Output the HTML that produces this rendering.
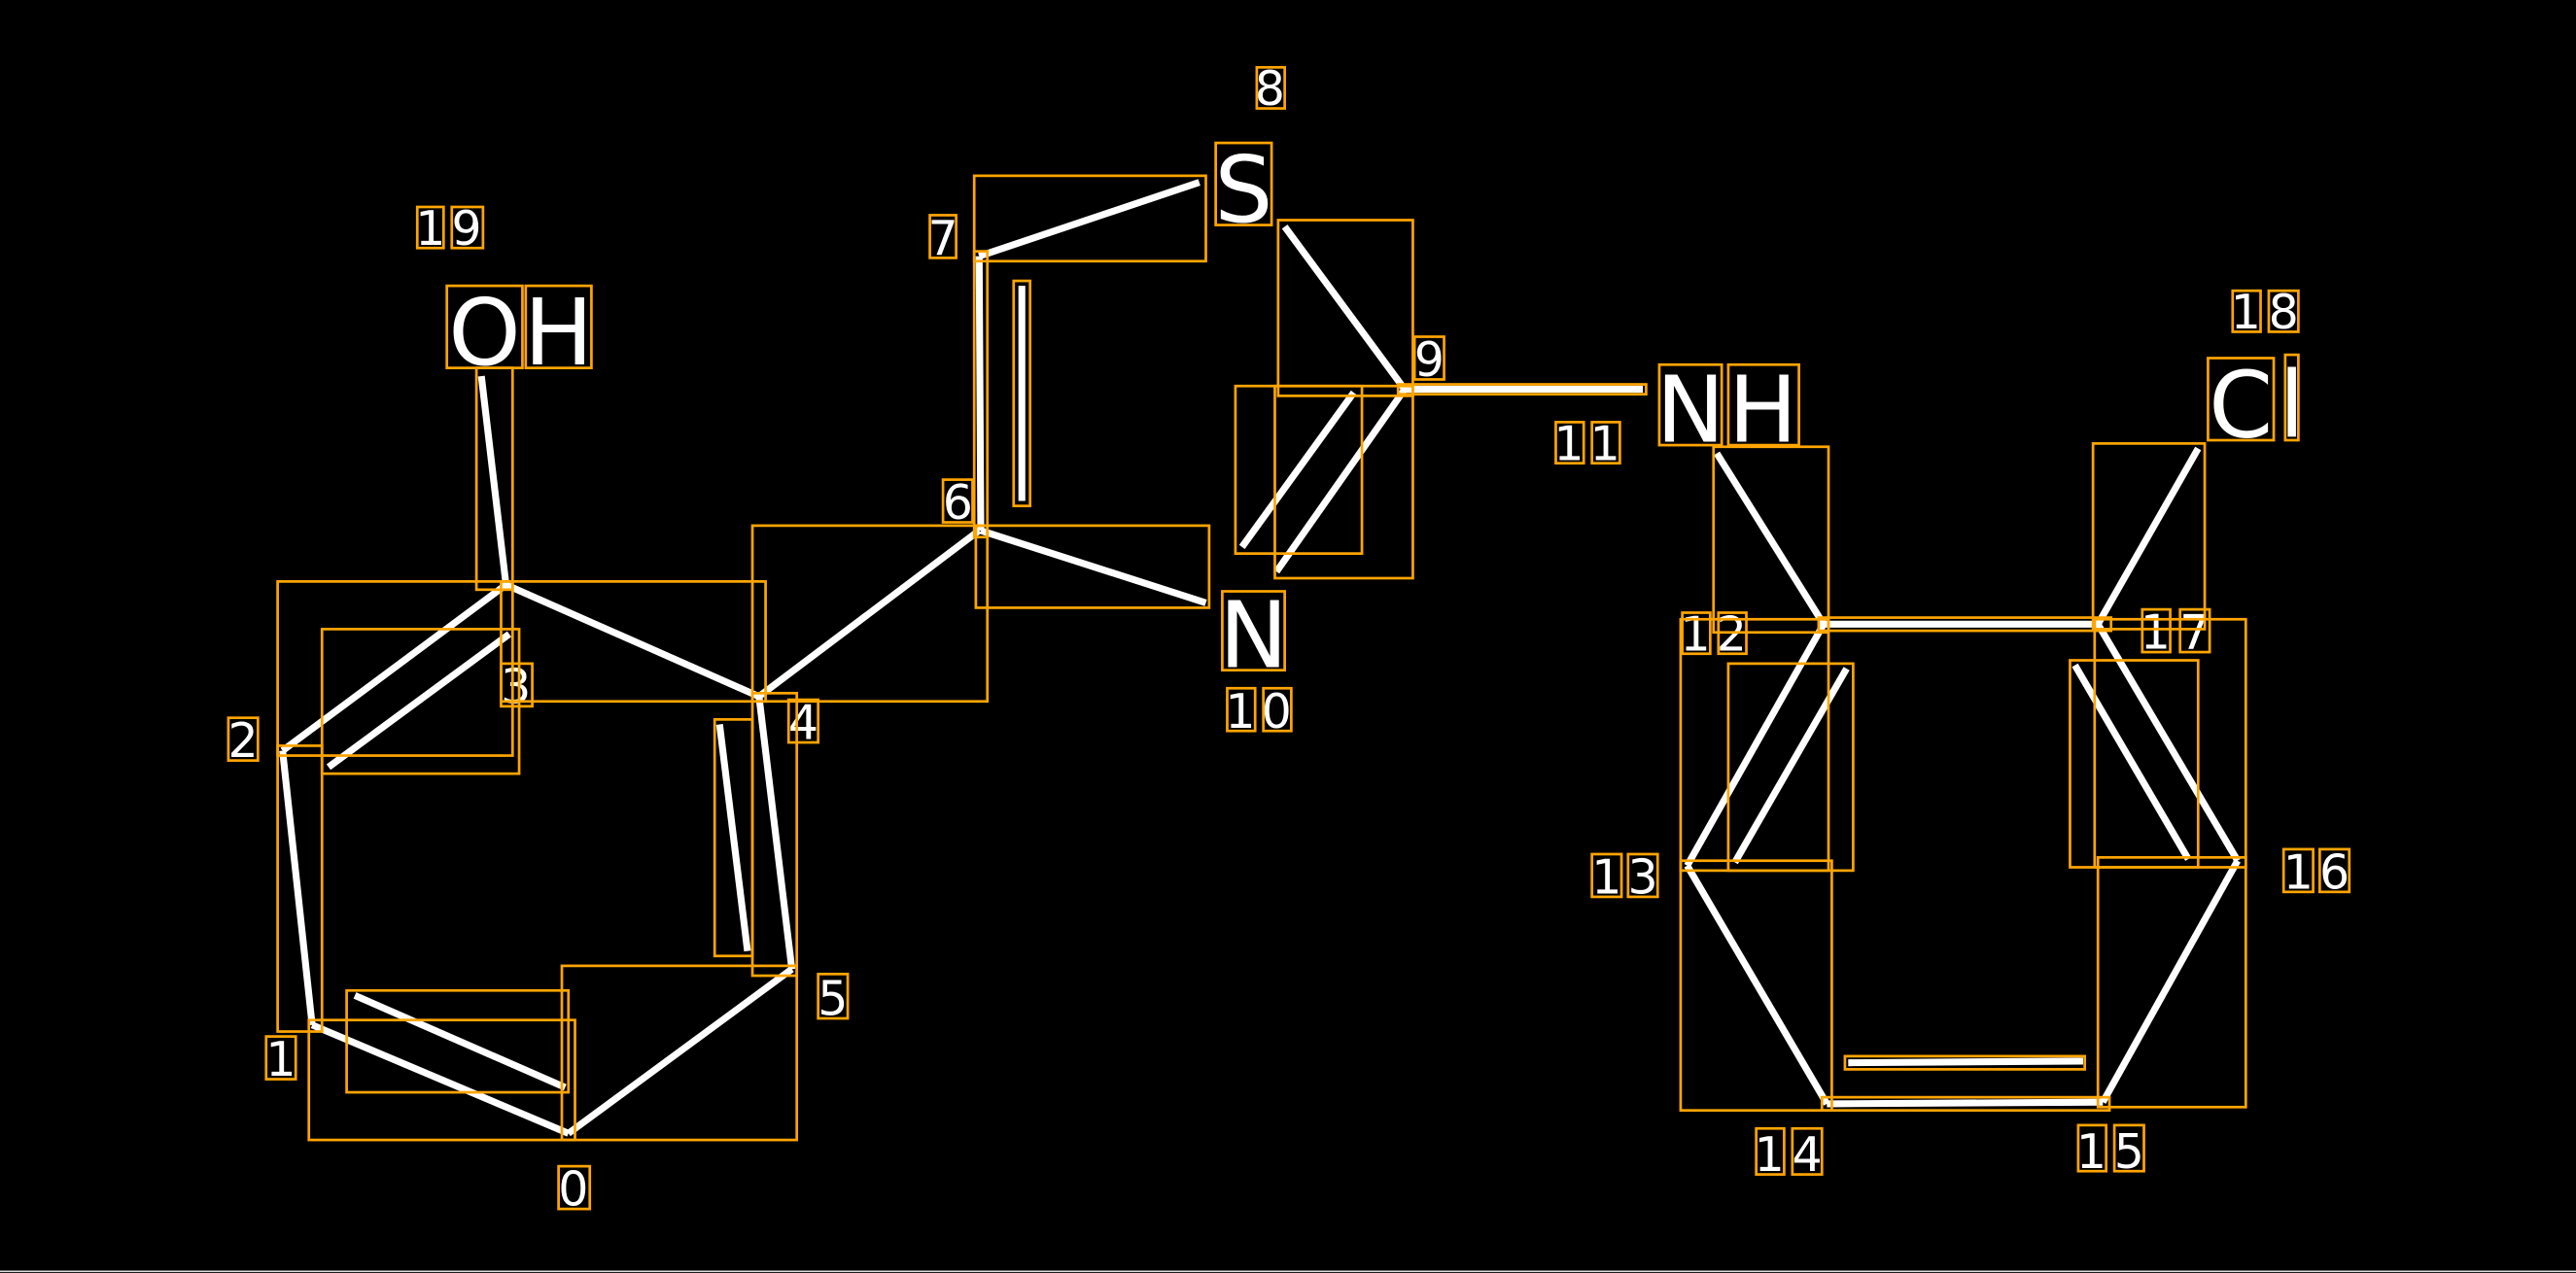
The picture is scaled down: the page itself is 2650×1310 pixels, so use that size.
<!DOCTYPE html>
<html><head><meta charset="utf-8"><style>html,body{margin:0;padding:0;background:#000}svg{display:block}</style></head>
<body>
<svg width="2650" height="1310" viewBox="0 0 1568 775" preserveAspectRatio="none" xmlns="http://www.w3.org/2000/svg">
<rect width="1568" height="775" fill="#000"/>
<line x1="0" y1="774" x2="1568" y2="774" stroke="#ddd" stroke-width="1"/>
<g stroke="#fff" stroke-width="4.2" stroke-linecap="butt" fill="none">
<line x1="293" y1="229" x2="308" y2="356"/>
<line x1="308" y1="356" x2="172" y2="457"/>
<line x1="310" y1="386" x2="200" y2="467"/>
<line x1="308" y1="356" x2="462" y2="424"/>
<line x1="172" y1="457" x2="190" y2="624"/>
<line x1="190" y1="624" x2="346" y2="690"/>
<line x1="216" y1="606" x2="344" y2="662"/>
<line x1="346" y1="690" x2="482" y2="590"/>
<line x1="482" y1="590" x2="462" y2="424"/>
<line x1="455" y1="579" x2="438" y2="441"/>
<line x1="462" y1="424" x2="596" y2="323"/>
<line x1="597" y1="323" x2="596" y2="156"/>
<line x1="622" y1="174" x2="622" y2="305"/>
<line x1="596" y1="156" x2="730" y2="111"/>
<line x1="597" y1="323" x2="734" y2="367"/>
<line x1="782" y1="138" x2="855" y2="237"/>
<line x1="855" y1="237" x2="777" y2="348"/>
<line x1="824" y1="239" x2="756" y2="333"/>
<line x1="855" y1="237" x2="1000" y2="237"/>
<line x1="1045" y1="276" x2="1110" y2="380"/>
<line x1="1110" y1="380" x2="1277" y2="380"/>
<line x1="1110" y1="380" x2="1027" y2="527"/>
<line x1="1124" y1="407" x2="1056" y2="525"/>
<line x1="1027" y1="527" x2="1112" y2="672"/>
<line x1="1112" y1="672" x2="1280" y2="671"/>
<line x1="1125" y1="647" x2="1268" y2="646"/>
<line x1="1280" y1="671" x2="1362" y2="524"/>
<line x1="1362" y1="524" x2="1277" y2="380"/>
<line x1="1332" y1="523" x2="1263" y2="405"/>
<line x1="1277" y1="380" x2="1338" y2="273"/>
</g>
<g font-family="DejaVu Sans, Liberation Sans, sans-serif" fill="#fff">
<text x="295" y="222" font-size="56" text-anchor="middle">O</text>
<text x="340" y="222" font-size="56" text-anchor="middle">H</text>
<text x="757" y="135" font-size="56" text-anchor="middle">S</text>
<text x="763" y="406" font-size="56" text-anchor="middle">N</text>
<text x="1029" y="269" font-size="56" text-anchor="middle">N</text>
<text x="1073" y="269" font-size="56" text-anchor="middle">H</text>
<text x="1364" y="266" font-size="56" text-anchor="middle">C</text>
<text x="1395" y="266" font-size="56" text-anchor="middle">l</text>
<g font-size="29" text-anchor="middle">
<text x="262" y="149">1</text><text x="284" y="149">9</text>
<text x="148" y="461">2</text>
<text x="314" y="428">3</text>
<text x="489" y="450">4</text>
<text x="507" y="618">5</text>
<text x="171" y="655">1</text>
<text x="349" y="734">0</text>
<text x="583" y="316">6</text>
<text x="574" y="155">7</text>
<text x="773" y="64">8</text>
<text x="870" y="229">9</text>
<text x="755" y="443">1</text><text x="777" y="443">0</text>
<text x="955" y="280">1</text><text x="977" y="280">1</text>
<text x="1032" y="396">1</text><text x="1054" y="396">2</text>
<text x="978" y="544">1</text><text x="1000" y="544">3</text>
<text x="1077" y="713">1</text><text x="1100" y="713">4</text>
<text x="1273" y="711">1</text><text x="1296" y="711">5</text>
<text x="1399" y="541">1</text><text x="1421" y="541">6</text>
<text x="1312" y="395">1</text><text x="1336" y="395">7</text>
<text x="1367" y="200">1</text><text x="1390" y="200">8</text>
</g>
</g>
<g stroke="#FFA500" stroke-width="1.6" fill="none">
<rect x="272" y="174" width="46" height="50"/><rect x="320" y="174" width="40" height="50"/>
<rect x="254" y="126" width="16" height="25"/><rect x="275" y="126" width="19" height="25"/>
<rect x="290" y="224" width="22" height="135"/>
<rect x="169" y="354" width="143" height="106"/>
<rect x="196" y="383" width="120" height="88"/>
<rect x="305" y="354" width="161" height="73"/>
<rect x="305" y="404" width="19" height="26"/>
<rect x="139" y="437" width="18" height="26"/>
<rect x="169" y="454" width="27" height="174"/>
<rect x="188" y="621" width="162" height="73"/>
<rect x="211" y="603" width="135" height="62"/>
<rect x="162" y="631" width="18" height="26"/>
<rect x="340" y="710" width="19" height="26"/>
<rect x="342" y="588" width="143" height="106"/>
<rect x="458" y="422" width="27" height="172"/>
<rect x="435" y="438" width="23" height="144"/>
<rect x="480" y="426" width="18" height="26"/>
<rect x="498" y="593" width="18" height="27"/>
<rect x="458" y="320" width="143" height="107"/>
<rect x="574" y="292" width="18" height="26"/>
<rect x="566" y="131" width="16" height="26"/>
<rect x="593" y="153" width="8" height="174"/>
<rect x="617" y="171" width="10" height="137"/>
<rect x="593" y="107" width="141" height="52"/>
<rect x="740" y="87" width="34" height="50"/>
<rect x="765" y="41" width="17" height="25"/>
<rect x="594" y="320" width="142" height="50"/>
<rect x="744" y="360" width="38" height="48"/>
<rect x="747" y="419" width="17" height="26"/><rect x="769" y="419" width="17" height="26"/>
<rect x="778" y="134" width="82" height="107"/>
<rect x="776" y="235" width="84" height="117"/>
<rect x="752" y="235" width="77" height="102"/>
<rect x="861" y="205" width="18" height="26"/>
<rect x="851" y="234" width="151" height="6"/>
<rect x="947" y="257" width="17" height="25"/><rect x="969" y="257" width="17" height="25"/>
<rect x="1010" y="222" width="38" height="49"/><rect x="1052" y="222" width="43" height="49"/>
<rect x="1043" y="272" width="70" height="113"/>
<rect x="1024" y="373" width="17" height="25"/><rect x="1046" y="373" width="17" height="25"/>
<rect x="1107" y="376" width="178" height="8"/>
<rect x="1023" y="377" width="90" height="153"/>
<rect x="1052" y="404" width="76" height="126"/>
<rect x="969" y="520" width="18" height="26"/><rect x="991" y="520" width="18" height="26"/>
<rect x="1023" y="524" width="92" height="152"/>
<rect x="1109" y="668" width="175" height="8"/>
<rect x="1123" y="643" width="146" height="8"/>
<rect x="1069" y="687" width="17" height="28"/><rect x="1091" y="687" width="18" height="28"/>
<rect x="1265" y="685" width="17" height="28"/><rect x="1287" y="685" width="18" height="28"/>
<rect x="1277" y="522" width="90" height="152"/>
<rect x="1275" y="377" width="92" height="151"/>
<rect x="1260" y="402" width="78" height="126"/>
<rect x="1390" y="517" width="18" height="26"/><rect x="1412" y="517" width="18" height="26"/>
<rect x="1304" y="371" width="17" height="26"/><rect x="1327" y="371" width="18" height="26"/>
<rect x="1274" y="270" width="68" height="113"/>
<rect x="1344" y="218" width="40" height="50"/><rect x="1391" y="216" width="8" height="52"/>
<rect x="1359" y="177" width="17" height="25"/><rect x="1381" y="177" width="18" height="25"/>
</g>
</svg>
</body></html>
